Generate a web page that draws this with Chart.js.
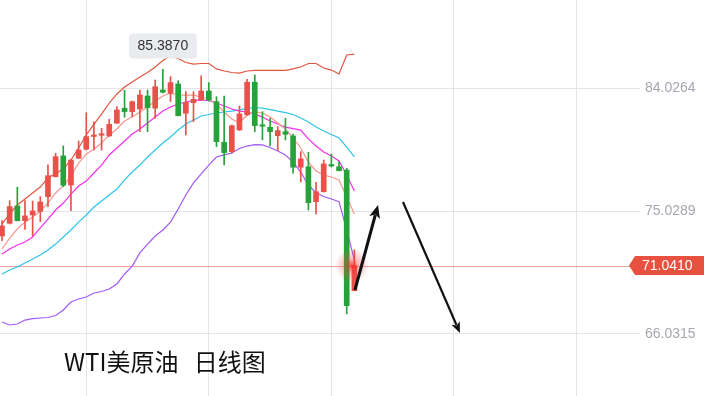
<!DOCTYPE html>
<html lang="zh">
<head>
    <meta charset="UTF-8">
    <title>WTI美原油 日线图</title>
    <style>
        body {
            margin: 0;
            padding: 0;
            background: #ffffff;
        }
        .wrap {
            position: relative;
            width: 706px;
            height: 396px;
            overflow: hidden;
        }
        .title {
            position: absolute;
            left: 64px;
            top: 346px;
            font-family: "Noto Sans CJK SC", sans-serif;
            font-size: 24px;
            line-height: 30px;
            color: #111;
            white-space: pre;
        }
        .title span {
            margin-left: 10px;
        }
    </style>
</head>
<body>
    <div class="wrap">
        <canvas id="kline" width="706" height="396"></canvas>
        <div class="title">WTI美原油 <span>日线图</span></div>
    </div>

    <script src="https://cdn.jsdelivr.net/npm/chart.js"></script>
    <script>
        // daily candles
        const opens = [73.20,74.13,75.40,74.32,74.74,75.00,76.08,77.54,79.06,76.93,78.89,79.55,80.48,80.57,80.52,81.45,82.55,82.30,82.49,83.44,82.55,83.88,83.64,84.32,82.18,82.95,83.15,83.81,83.03,80.06,79.37,80.96,82.06,84.45,81.27,81.15,80.54,80.83,80.52,78.23,78.27,75.71,76.44,78.38,78.27,78.03,69.20];
        const closes = [73.94,75.35,74.32,74.67,75.03,75.69,77.61,79.00,76.91,78.76,79.49,80.47,80.52,80.59,81.37,82.42,82.30,83.03,83.52,82.59,84.12,83.72,84.42,82.00,82.98,83.20,83.81,83.15,80.10,79.30,81.27,82.13,84.45,81.27,81.23,80.83,80.91,80.64,78.23,78.84,75.64,76.44,78.47,78.32,77.98,68.11,71.041];
        const highs = [74.32,75.79,76.77,75.79,75.76,76.08,78.40,79.25,79.79,78.80,80.15,82.22,81.56,81.08,81.74,82.66,83.88,83.08,83.88,83.88,84.61,85.387,84.86,84.56,83.76,83.76,84.91,84.42,83.39,83.44,81.32,82.71,84.67,84.98,82.30,81.81,81.20,81.81,80.66,79.37,79.33,77.13,78.76,79.20,78.64,78.16,72.18];
        const lows = [72.86,74.08,74.30,73.69,73.20,74.25,75.35,77.52,76.81,75.05,78.87,79.49,79.49,79.49,80.48,81.43,81.89,81.93,80.83,80.83,81.81,83.66,83.03,81.98,80.59,81.56,83.12,83.08,79.74,78.40,79.25,80.92,82.02,80.83,80.23,79.79,79.44,80.23,77.79,77.15,75.10,74.81,76.42,78.25,77.96,67.50,69.18];

        // indicator lines
        const upperBand = [74.08,74.81,75.47,75.91,76.35,76.78,77.44,77.77,78.10,78.76,79.64,80.59,81.39,82.12,82.93,83.59,84.10,84.46,84.83,85.16,85.56,86.04,86.37,86.18,85.89,85.78,85.82,85.82,85.42,85.27,85.16,85.12,85.27,85.31,85.31,85.31,85.31,85.31,85.42,85.56,85.82,85.82,85.49,85.34,85.05,86.44,86.51];
        const ma5 = [72.25,73.05,73.71,74.22,74.59,75.03,75.61,76.35,76.86,77.59,78.54,79.20,79.56,80.00,80.59,81.03,81.61,81.90,82.27,82.64,83.08,83.44,83.66,83.51,83.51,83.51,83.37,83.22,82.86,82.27,81.76,81.47,82.05,82.27,82.20,81.90,81.47,81.03,80.37,79.64,78.61,77.96,77.66,77.52,77.30,76.05,74.81];
        const ma10 = [71.88,72.25,72.54,72.76,73.13,73.79,74.44,75.10,75.61,76.27,76.86,77.22,77.81,78.39,79.13,79.64,80.15,80.66,81.03,81.47,81.90,82.34,82.64,82.86,83.00,83.11,83.15,83.11,82.93,82.71,82.49,82.34,82.27,82.12,81.90,81.61,81.39,81.17,81.06,80.95,80.30,79.78,79.34,79.05,78.69,77.66,76.49];
        const ma20 = [70.42,70.71,70.93,71.22,71.52,71.81,72.18,72.61,73.13,73.64,74.22,74.74,75.32,75.76,76.20,76.64,77.30,77.88,78.39,78.98,79.49,80.00,80.44,80.95,81.39,81.69,81.98,82.09,82.20,82.27,82.34,82.42,82.53,82.60,82.56,82.45,82.34,82.23,82.09,81.83,81.54,81.17,80.88,80.63,80.37,79.71,78.98];
        const lowerBand = [66.91,66.69,66.76,67.05,67.16,67.20,67.24,67.38,67.79,68.37,68.59,68.74,69.03,69.14,69.32,69.69,70.42,71.00,71.96,72.61,73.20,73.64,74.22,75.18,76.20,77.08,77.74,78.39,78.98,79.13,79.27,79.60,79.78,79.89,79.86,79.67,79.42,79.13,78.61,77.88,76.93,76.35,76.09,75.91,75.71,73.64,71.44];

        const yTicks = [66.0315, 75.0289, 84.0264];
        const lastPrice = 71.041;
        const maxHigh = 85.387;
        const maxIndex = 22;
        // arrows: [fromIndex, fromPrice, toIndex, toPrice]
        const arrows = [[47.08, 69.25, 50.09, 75.47], [53.35, 75.69, 60.79, 66.10]];

        const RED = '#e9514a';
        const GREEN = '#27a23a';
        const GRID = '#e4e4ea';

        const idx = opens.map((v, i) => i + 1);
        const candleColors = idx.map((x, i) => closes[i] >= opens[i] ? RED : GREEN);

        function lineSet(values, color) {
            return {
                type: 'line',
                data: values.map((v, i) => ({ x: idx[i], y: v })),
                borderColor: color,
                borderWidth: 1.2,
                pointRadius: 0,
                tension: 0,
                order: 2
            };
        }

        // last price line, tag, max label, arrows
        const overlay = {
            id: 'overlay',
            beforeDatasetsDraw(chart) {
                const { ctx, scales: { y } } = chart;
                const py = Math.round(y.getPixelForValue(lastPrice)) + 0.5;
                ctx.save();
                ctx.strokeStyle = '#f2a099';
                ctx.lineWidth = 1;
                ctx.beginPath();
                ctx.moveTo(0, py);
                ctx.lineTo(630, py);
                ctx.stroke();
                ctx.restore();
            },
            afterDatasetsDraw(chart) {
                const { ctx, scales: { x, y } } = chart;
                ctx.save();

                // glow on the last candle
                const gx = x.getPixelForValue(46.7);
                const gy = y.getPixelForValue(lastPrice);
                const g = ctx.createRadialGradient(gx, gy, 0, gx, gy, 17);
                g.addColorStop(0, 'rgba(255, 30, 30, 0.8)');
                g.addColorStop(0.4, 'rgba(255, 60, 60, 0.35)');
                g.addColorStop(1, 'rgba(255, 60, 60, 0)');
                ctx.fillStyle = g;
                ctx.fillRect(gx - 18, gy - 18, 36, 36);

                // price tag on the right
                const ty = y.getPixelForValue(lastPrice);
                ctx.fillStyle = '#e8503f';
                ctx.beginPath();
                ctx.moveTo(629, ty);
                ctx.lineTo(635, ty - 9.5);
                ctx.lineTo(704, ty - 9.5);
                ctx.lineTo(704, ty + 9.5);
                ctx.lineTo(635, ty + 9.5);
                ctx.closePath();
                ctx.fill();
                ctx.fillStyle = '#fff';
                ctx.font = '14px "Liberation Sans", Arial, sans-serif';
                ctx.textAlign = 'left';
                ctx.textBaseline = 'middle';
                ctx.fillText(lastPrice.toFixed(4), 642, ty + 0.5);

                // max high label
                const mx = x.getPixelForValue(maxIndex);
                const my = y.getPixelForValue(maxHigh);
                const bw = 68, bh = 25;
                const bx = mx - bw / 2, by = my - 11 - bh;
                ctx.fillStyle = '#e9ebee';
                ctx.beginPath();
                ctx.roundRect(bx, by, bw, bh, 4);
                ctx.fill();
                ctx.fillStyle = '#333';
                ctx.textAlign = 'center';
                ctx.fillText(maxHigh.toFixed(4), mx, by + bh / 2 + 0.5);

                // arrows
                ctx.strokeStyle = '#111';
                ctx.fillStyle = '#111';
                arrows.forEach(([i0, p0, i1, p1], k) => {
                    const x0 = x.getPixelForValue(i0), y0 = y.getPixelForValue(p0);
                    const x1 = x.getPixelForValue(i1), y1 = y.getPixelForValue(p1);
                    const a = Math.atan2(y1 - y0, x1 - x0);
                    const head = k === 0 ? 13 : 11;
                    const half = k === 0 ? 5.5 : 4.5;
                    ctx.lineWidth = k === 0 ? 3 : 2.2;
                    ctx.beginPath();
                    ctx.moveTo(x0, y0);
                    ctx.lineTo(x1 - Math.cos(a) * head * 0.8, y1 - Math.sin(a) * head * 0.8);
                    ctx.stroke();
                    ctx.beginPath();
                    ctx.moveTo(x1, y1);
                    ctx.lineTo(x1 - Math.cos(a) * head - Math.sin(a) * half, y1 - Math.sin(a) * head + Math.cos(a) * half);
                    ctx.lineTo(x1 - Math.cos(a) * head * 0.75, y1 - Math.sin(a) * head * 0.75);
                    ctx.lineTo(x1 - Math.cos(a) * head + Math.sin(a) * half, y1 - Math.sin(a) * head - Math.cos(a) * half);
                    ctx.closePath();
                    ctx.fill();
                });
                ctx.restore();
            }
        };

        new Chart(document.getElementById('kline'), {
            type: 'bar',
            data: {
                datasets: [
                    {
                        // wicks
                        data: idx.map((x, i) => ({ x: x, y: [lows[i], highs[i]] })),
                        backgroundColor: candleColors,
                        barThickness: 1,
                        grouped: false,
                        order: 1
                    },
                    {
                        // bodies
                        data: idx.map((x, i) => ({ x: x, y: [opens[i], closes[i]] })),
                        backgroundColor: candleColors,
                        barThickness: 5,
                        minBarLength: 1.5,
                        grouped: false,
                        order: 0
                    },
                    lineSet(upperBand, '#e2553f'),
                    lineSet(ma5, '#f8968d'),
                    lineSet(ma10, '#f52df2'),
                    lineSet(ma20, '#2ec4ea'),
                    lineSet(lowerBand, '#a25af6')
                ]
            },
            options: {
                responsive: false,
                animation: false,
                layout: { padding: 0 },
                plugins: {
                    legend: { display: false },
                    tooltip: { enabled: false }
                },
                scales: {
                    x: {
                        type: 'linear',
                        offset: false,
                        min: 0.739,
                        max: 84.29,
                        afterBuildTicks: s => { s.ticks = [12, 28, 44, 60, 76].map(v => ({ value: v })); },
                        afterFit: s => { s.height = 0; s.paddingLeft = 0; s.paddingRight = 0; },
                        ticks: { display: false },
                        grid: { color: GRID, drawTicks: false, offset: false },
                        border: { display: false }
                    },
                    y: {
                        position: 'right',
                        min: 61.496,
                        max: 90.464,
                        afterBuildTicks: s => { s.ticks = yTicks.map(v => ({ value: v })); },
                        afterFit: s => { s.width = 66; s.paddingTop = 0; s.paddingBottom = 0; },
                        ticks: {
                            padding: 5,
                            color: '#a6a6b0',
                            font: { family: '"Liberation Sans", Arial, sans-serif', size: 14 },
                            callback: v => v.toFixed(4)
                        },
                        grid: { color: GRID, drawTicks: false },
                        border: { display: false }
                    }
                }
            },
            plugins: [overlay]
        });
    </script>
</body>
</html>
